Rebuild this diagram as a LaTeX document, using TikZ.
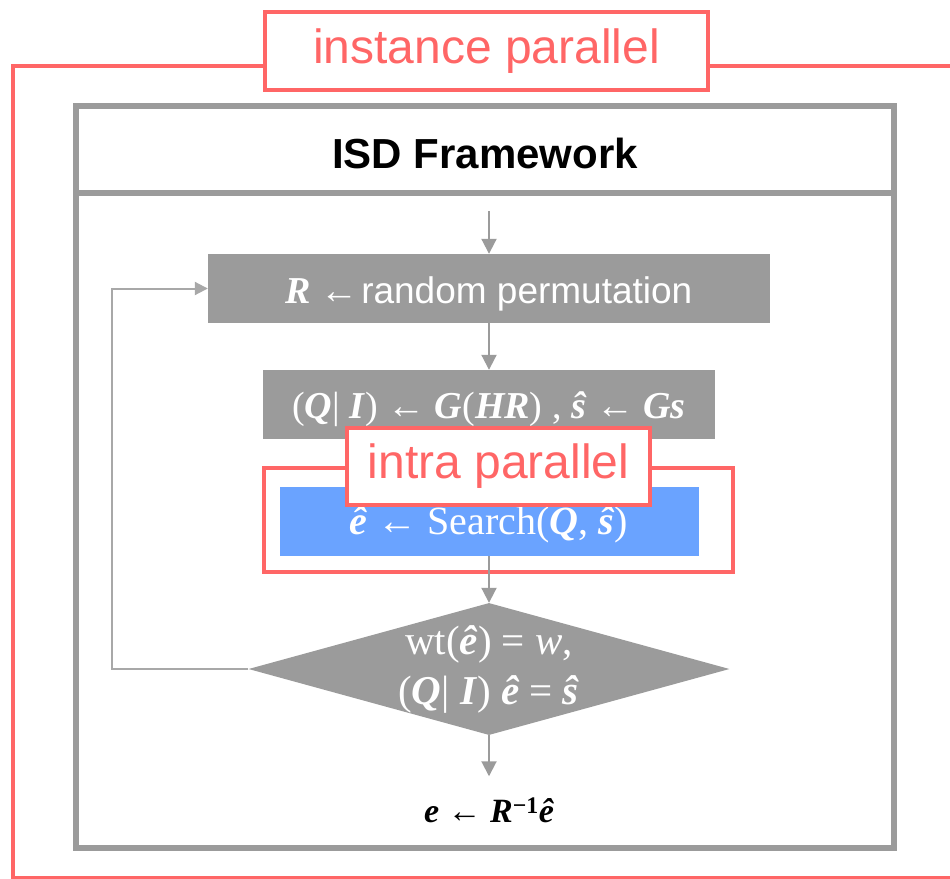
\documentclass[tikz,border=0pt]{standalone}
\usepackage{fontspec}
\setmainfont{Liberation Sans}
\newfontfamily\serifm{Liberation Serif}
\usetikzlibrary{shapes.geometric,arrows.meta}
\definecolor{frameRed}{HTML}{FF6666}
\definecolor{flowGray}{HTML}{9B9B9B}
\definecolor{loopGray}{HTML}{A8A8A8}
\definecolor{searchBlue}{HTML}{6AA3FF}
\newcommand{\bi}[1]{\textbf{\textit{#1}}}
\newcommand{\pxfont}[1]{\fontsize{#1}{#1}\selectfont}
% lower a line of text without changing the box size it reports
\newcommand{\lowerby}[2]{\raisebox{-#1}[\height][\depth]{#2}}

\begin{document}
\begin{tikzpicture}[x=1pt,y=-1pt,
  redlabel/.style={draw=frameRed, line width=4.5pt, fill=white, text=frameRed,
                   inner sep=0pt, font=\pxfont{48}},
  grayfill/.style={fill=flowGray, text=white, inner sep=0pt, minimum height=69pt},
  flow/.style={draw=flowGray, line width=2pt, -{Triangle[width=15pt,length=15pt]}},
  loopback/.style={draw=loopGray, line width=2pt, -{Triangle[width=13pt,length=13pt]}},
  mathtext/.style={font=\serifm\pxfont{38}}
]
\useasboundingbox (0,0) rectangle (950,878);

% outer instance-parallel frame
\draw[frameRed, line width=4.5pt] (13,66) rectangle (970,878);
\node[redlabel, minimum width=443pt, minimum height=78pt] (inst) at (486.5,51) {instance parallel};

% ISD framework panel
\draw[flowGray, line width=5.5pt] (76,106) rectangle (894,848);
\draw[flowGray, line width=5.5pt] (76,193) -- (894,193);
\node[font=\bfseries\pxfont{42}] (title) at (485,153) {ISD Framework};

% flowchart steps
\coordinate (entry) at (489,211);
\node[grayfill, minimum width=562pt] (perm) at (489,288.5)
  {\lowerby{5pt}{{\serifm\pxfont{38}\bi{R} ←} {\pxfont{37}random permutation}}};
\node[grayfill, minimum width=452pt, mathtext] (gauss) at (489,404.5)
  {\lowerby{5pt}{(\bi{Q}| \bi{I}) ← \bi{G}(\bi{HR}) , \bi{ŝ} ← \bi{Gs}}};

% intra-parallel frame around the search step
\node[draw=frameRed, line width=4.5pt, inner sep=0pt, minimum width=469pt,
      minimum height=104pt] (intra) at (498.5,520) {};
\node[fill=searchBlue, text=white, inner sep=0pt, minimum width=419pt,
      minimum height=69pt, font=\serifm\pxfont{40}] (search) at (489,521.5)
  {\lowerby{3pt}{\bi{ê} ← Search(\bi{Q}, \bi{ŝ})}};
\node[redlabel, minimum width=303pt, minimum height=77pt] (intralab) at (498.5,466.5) {intra parallel};

% decision
\node[diamond, fill=flowGray, inner sep=0pt, minimum width=481pt,
      minimum height=132pt] (check) at (489,669) {};
\node[text=white, align=center, font=\serifm\fontsize{41}{50}\selectfont]
  (checktxt) at (check.center)
  {wt(\bi{ê}) = \textit{w},\\ (\bi{Q}| \bi{I}) \bi{ê} = \bi{ŝ}};

% result
\node[font=\serifm\pxfont{34}, inner sep=0pt] (result) at (489,810)
  {\bi{e} ← \bi{R}\textsuperscript{\bfseries −1}\bi{ê}};

% connectors
\draw[flow] (entry) -- (perm.north);
\draw[flow] (perm.south) -- (gauss.north);
\draw[flow] (search.south) -- (check.north);
\draw[flow, shorten >=21pt] (check.south) -- (result.north);
\draw[loopback] (check.west) -- ++(-136,0) |- (perm.west);
\end{tikzpicture}
\end{document}
